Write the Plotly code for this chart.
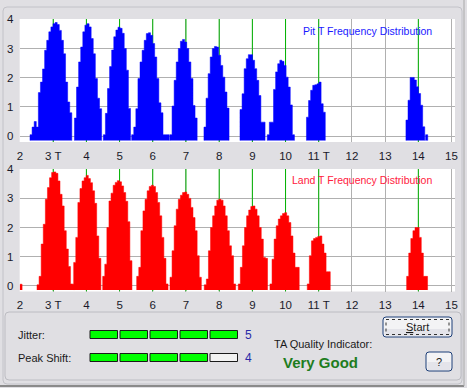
import plotly.graph_objects as go

W, H = 467, 388

# ---------------- data ----------------
bin_width = 0.063
ideal_t = [3, 4, 5, 6, 7, 8, 9, 10, 11, 14]
x_tick_vals = list(range(2, 16))
x_tick_text = ["2", "3 T", "4", "5", "6", "7", "8", "9", "10", "11 T", "12", "13", "14", "15"]
y_tick_vals = [0, 1, 2, 3, 4]

# Pit T frequency distribution (start of each peak in T units, heights per bin)
pit_starts = [2.301, 3.64, 4.51, 5.364, 6.518, 7.542, 8.627, 9.449, 10.63, 13.627, 14.22]
pit_3t = [0.05, 0.31, 0.5, 0.31, 1.49, 1.85, 2.3, 2.94, 3.28, 3.57, 3.74, 3.85, 3.89, 3.82, 3.62, 3.28, 2.82, 1.85, 1.17, 0.8]
pit_4t = [0.62, 1.68, 2.54, 3.05, 3.57, 3.8, 3.85, 3.74, 3.34, 2.82, 1.97, 1.3, 0.94]
pit_5t = [0.05, 0.78, 1.63, 2.38, 2.95, 3.4, 3.63, 3.73, 3.69, 3.52, 3.0, 2.26, 0.95]
pit_6t = [0.05, 0.31, 0.94, 1.97, 2.54, 2.94, 3.28, 3.51, 3.54, 3.45, 3.17, 2.71, 1.97, 1.14, 0.8, 0.05, 0.05, 0.05]
pit_7t = [0.05, 1.03, 1.91, 2.54, 3.0, 3.25, 3.31, 3.22, 3.0, 2.54, 1.97, 1.05, 0.62]
pit_8t = [0.31, 1.3, 2.14, 2.71, 3.0, 3.07, 3.05, 2.77, 2.42, 2.02, 1.51, 0.96]
pit_9t = [0.91, 1.45, 2.31, 2.65, 2.79, 2.79, 2.6, 2.31, 1.91, 1.39, 0.48, 0.48]
pit_10t = [0.05, 0.48, 0.48, 1.6, 2.2, 2.48, 2.6, 2.56, 2.42, 2.02, 1.68, 1.07, 0.05]
pit_11t = [0.65, 1.22, 1.57, 1.74, 1.76, 1.79, 1.85, 1.11, 0.82]
pit_14t = [0.55, 1.23, 2.01, 2.01, 1.92, 1.69, 1.46, 1.06, 0.32]
pit_tail = [0.05]
pit_peaks = [pit_3t, pit_4t, pit_5t, pit_6t, pit_7t, pit_8t, pit_9t, pit_10t, pit_11t, pit_14t, pit_tail]

# Land T frequency distribution
land_starts = [2.0, 2.512, 3.617, 4.491, 5.515, 6.518, 7.551, 8.575, 9.53, 10.654, 13.648]
land_dot = [0.05]
land_3t = [0.03, 0.32, 1.43, 2.11, 2.97, 3.37, 3.71, 3.89, 3.91, 3.86, 3.6, 3.14, 2.74, 1.89, 1.26, 0.66, 0.06, 0.05]
land_4t = [0.8, 1.66, 2.86, 3.34, 3.6, 3.71, 3.79, 3.68, 3.54, 3.26, 2.83, 1.71, 0.94]
land_5t = [0.32, 0.74, 2.0, 2.91, 3.18, 3.45, 3.55, 3.61, 3.57, 3.43, 3.2, 2.9, 2.2, 0.86]
land_6t = [0.32, 0.63, 1.89, 2.57, 2.97, 3.26, 3.41, 3.45, 3.41, 3.2, 2.86, 2.4, 1.66, 0.94, 0.06]
land_7t = [0.29, 1.2, 2.06, 2.63, 2.97, 3.11, 3.2, 3.22, 3.14, 3.0, 2.69, 2.34, 1.89, 1.03, 0.29]
land_8t = [0.03, 0.23, 1.2, 2.0, 2.4, 2.74, 2.94, 2.97, 2.94, 2.74, 2.4, 1.89, 1.37, 1.03, 0.06]
land_9t = [0.06, 0.63, 1.37, 2.0, 2.4, 2.6, 2.72, 2.74, 2.63, 2.4, 2.0, 1.6, 0.97, 0.94]
land_10t = [0.06, 0.91, 1.6, 2.06, 2.29, 2.4, 2.48, 2.51, 2.4, 2.17, 1.71, 1.12, 0.63, 0.63]
land_11t = [0.06, 1.03, 1.54, 1.62, 1.66, 1.69, 1.71, 1.43, 1.12, 0.48, 0.48]
land_14t = [0.32, 1.12, 1.62, 1.89, 2.0, 2.0, 1.66, 1.12, 0.32, 0.32]
land_peaks = [land_dot, land_3t, land_4t, land_5t, land_6t, land_7t, land_8t, land_9t, land_10t, land_11t, land_14t]

jitter_score = 5
peak_shift_score = 4
max_score = 5
quality_text = "Very Good"

# ---------------- helpers ----------------
FONT = "Liberation Sans, Arial, sans-serif"
BG = "#e0dfe3"
BAR_BASE = -0.15


def px(x):
    return x / W


def py(y):
    return 1 - y / H


def step_outline(starts, peaks):
    """Closed stepped outline of each histogram peak, separated by gaps."""
    xs, ys = [], []
    for s, vals in zip(starts, peaks):
        xs.append(s)
        ys.append(BAR_BASE)
        for i, v in enumerate(vals):
            xs += [s + i * bin_width, s + (i + 1) * bin_width]
            ys += [v, v]
        xs.append(s + len(vals) * bin_width)
        ys.append(BAR_BASE)
        xs.append(None)
        ys.append(None)
    return xs, ys


def rrect(x0, y0, x1, y1, r):
    rx, ry = r / W, r / H
    X0, X1 = px(x0), px(x1)
    Y0, Y1 = py(y0), py(y1)  # Y0 top (larger)
    return (f"M {X0+rx},{Y0} L {X1-rx},{Y0} Q {X1},{Y0} {X1},{Y0-ry} "
            f"L {X1},{Y1+ry} Q {X1},{Y1} {X1-rx},{Y1} L {X0+rx},{Y1} "
            f"Q {X0},{Y1} {X0},{Y1+ry} L {X0},{Y0-ry} Q {X0},{Y0} {X0+rx},{Y0} Z")


fig = go.Figure()

p_x, p_y = step_outline(pit_starts, pit_peaks)
l_x, l_y = step_outline(land_starts, land_peaks)

fig.add_trace(go.Scatter(x=p_x, y=p_y, mode="lines", fill="toself", fillcolor="#0000ff",
                         line=dict(color="#0000ff", width=0.5), connectgaps=False,
                         xaxis="x", yaxis="y", hoverinfo="skip", showlegend=False))
fig.add_trace(go.Scatter(x=l_x, y=l_y, mode="lines", fill="toself", fillcolor="#ff0000",
                         line=dict(color="#ff0000", width=0.5), connectgaps=False,
                         xaxis="x2", yaxis="y2", hoverinfo="skip", showlegend=False))

x_dom = [px(19.67), px(455)]
x_rng = [1.99, 15.105]
y_rng = [-0.2, 4.01]

axis_x = dict(range=x_rng, domain=x_dom, tickmode="array", tickvals=x_tick_vals, ticktext=x_tick_text,
              showgrid=True, gridcolor="#b0b0b0", gridwidth=1, zeroline=False, showline=False,
              ticks="outside", ticklen=3, tickcolor="rgba(0,0,0,0)", automargin=False,
              tickfont=dict(family=FONT, size=11.5, color="#1a1a2a"), fixedrange=True)
axis_y = dict(range=y_rng, tickmode="array", tickvals=y_tick_vals,
              showgrid=True, gridcolor="#b0b0b0", gridwidth=1, zeroline=False, showline=False,
              ticks="outside", ticklen=3, tickcolor="rgba(0,0,0,0)", automargin=False,
              tickfont=dict(family=FONT, size=11.5, color="#1a1a2a"), fixedrange=True)

shapes = []
# ideal T green lines
for xr, yr in (("x", "y"), ("x2", "y2")):
    for t in ideal_t:
        shapes.append(dict(type="line", xref=xr, yref=yr, x0=t, x1=t, y0=y_rng[0], y1=y_rng[1],
                           line=dict(color="#00b400", width=1), layer="between"))

# frames
shapes.append(dict(type="path", xref="paper", yref="paper", path=rrect(3, 7, 462, 384, 4),
                   line=dict(color="#c2c2c8", width=1), fillcolor="rgba(0,0,0,0)", layer="below"))
shapes.append(dict(type="path", xref="paper", yref="paper", path=rrect(5, 312, 461, 380, 4),
                   line=dict(color="#bcbcc2", width=1), fillcolor="rgba(0,0,0,0)", layer="below"))
shapes.append(dict(type="line", xref="paper", yref="paper", x0=0, x1=px(464), y0=py(386), y1=py(386),
                   line=dict(color="#8a8a8a", width=2)))
shapes.append(dict(type="line", xref="paper", yref="paper", x0=px(464), x1=px(464), y0=py(0), y1=py(386),
                   line=dict(color="#a8a8a8", width=1)))


# score boxes
def score_boxes(score, ytop):
    out = []
    for i in range(max_score):
        x0 = 90 + i * 30
        out.append(dict(type="rect", xref="paper", yref="paper",
                        x0=px(x0), x1=px(x0 + 27.5), y0=py(ytop + 8), y1=py(ytop),
                        fillcolor="#00ff00" if i < score else "#f2f2f2",
                        line=dict(color="#1a1a1a", width=1)))
    return out


shapes += score_boxes(jitter_score, 330.5)
shapes += score_boxes(peak_shift_score, 353.5)

# buttons
shapes.append(dict(type="path", xref="paper", yref="paper", path=rrect(383, 317, 452, 337, 3),
                   line=dict(color="#1c3e78", width=1), fillcolor="#f3f3f5"))
shapes.append(dict(type="rect", xref="paper", yref="paper", x0=px(384.5), x1=px(450.5), y0=py(336), y1=py(329),
                   line=dict(width=0), fillcolor="#e4e4ea"))
shapes.append(dict(type="rect", xref="paper", yref="paper", x0=px(386), x1=px(449), y0=py(334.5), y1=py(319.5),
                   line=dict(color="#303030", width=1, dash="dot"), fillcolor="rgba(0,0,0,0)"))
shapes.append(dict(type="path", xref="paper", yref="paper", path=rrect(426, 352, 452, 371, 3),
                   line=dict(color="#1c3e78", width=1), fillcolor="#f3f3f5"))
shapes.append(dict(type="rect", xref="paper", yref="paper", x0=px(427.5), x1=px(450.5), y0=py(370), y1=py(362),
                   line=dict(width=0), fillcolor="#e4e4ea"))


def text(x, y, s, size=11, color="#1a1a1a", xanchor="left", bold=False):
    return dict(x=px(x), y=py(y), xref="paper", yref="paper", text=f"<b>{s}</b>" if bold else s,
                showarrow=False, xanchor=xanchor, yanchor="middle",
                font=dict(family=FONT, size=size, color=color))


annotations = [
    text(434, 31, "Pit T Frequency Distribution", 10.5, "#1a1aff", "right"),
    text(434, 180, "Land T Frequency Distribution", 10.5, "#ff2040", "right"),
    text(16, 335, "Jitter:", 11),
    text(16, 357.5, "Peak Shift:", 11),
    text(248, 334.5, str(jitter_score), 12, "#2a2aa8", "center"),
    text(248, 357.5, str(peak_shift_score), 12, "#2a2aa8", "center"),
    text(272, 344, "TA Quality Indicator:", 11),
    text(320.5, 362.5, quality_text, 15, "#1e7d1e", "center", bold=True),
    text(417.5, 327, "<u>S</u>tart", 11, "#1a1a1a", "center"),
    text(439, 361.5, "?", 11, "#1a1a1a", "center"),
]

fig.update_layout(
    template="none",
    width=W, height=H, autosize=False,
    margin=dict(l=0, r=0, t=0, b=0, pad=0),
    paper_bgcolor=BG, plot_bgcolor="#ffffff",
    xaxis=dict(axis_x, anchor="y"),
    yaxis=dict(axis_y, domain=[py(142), py(19)], anchor="x"),
    xaxis2=dict(axis_x, anchor="y2"),
    yaxis2=dict(axis_y, domain=[py(291.5), py(169)], anchor="x2"),
    shapes=shapes, annotations=annotations,
)

fig.write_html("out.html", config=dict(displayModeBar=False, staticPlot=True),
               post_script="document.body.style.margin='0';document.body.style.padding='0';"
                           "document.body.style.overflow='hidden';")
